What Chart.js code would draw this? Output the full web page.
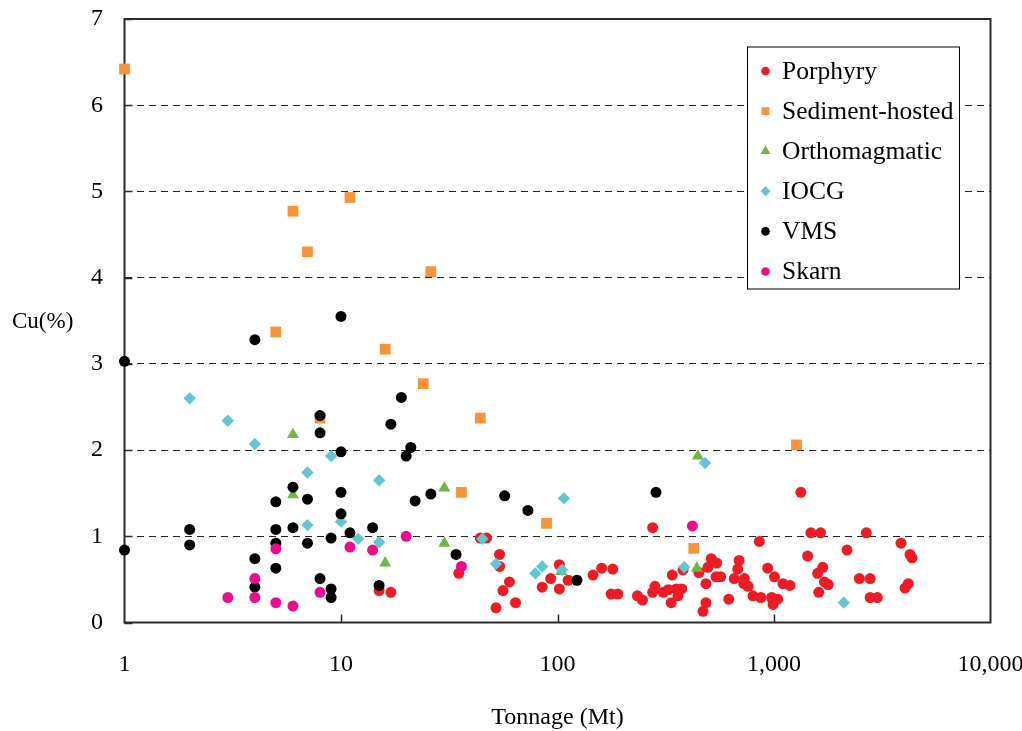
<!DOCTYPE html>
<html>
<head>
<meta charset="utf-8">
<title>Cu grade versus tonnage by deposit type</title>
<script src="https://cdn.jsdelivr.net/npm/chart.js@4.4.1/dist/chart.umd.min.js"></script>
<style>
  html, body { margin: 0; padding: 0; background: #fff; }
  #wrap { width: 1022px; height: 731px; }
</style>
</head>
<body>
<div id="wrap"><canvas id="chart" width="1022" height="731"></canvas></div>
<script>
// Deposits: [tonnage (Mt), Cu grade (%)]
const porphyry = [
  [15,0.37],[17,0.35],[35,0.57],[44,0.98],[47,0.98],[52,0.17],[54,0.79],[54,0.65],[56,0.37],[60,0.47],
  [64,0.23],[85,0.41],[93,0.51],[102,0.67],[102,0.39],[112,0.49],[146,0.55],[160,0.63],[180,0.62],[177,0.33],
  [190,0.33],[234,0.31],[247,0.26],[275,1.10],[282,0.42],[275,0.35],[308,0.35],[325,0.38],[339,0.55],[335,0.23],
  [354,0.39],[375,0.39],[360,0.31],[380,0.61],[450,0.58],[485,0.45],[485,0.23],[470,0.13],[495,0.64],[513,0.74],
  [543,0.69],[540,0.53],[567,0.53],[618,0.27],[655,0.51],[690,0.72],[680,0.62],[730,0.51],[725,0.45],[760,0.42],
  [855,0.94],[800,0.31],[870,0.29],[935,0.63],[1005,0.53],[975,0.29],[1040,0.27],[990,0.21],[1100,0.45],[1185,0.43],
  [1330,1.51],[1480,1.04],[1640,1.04],[2670,1.04],[3860,0.92],[2175,0.84],[1430,0.77],[4250,0.79],[4340,0.75],[1680,0.64],
  [1590,0.57],[1710,0.47],[1780,0.44],[2480,0.51],[2780,0.51],[1610,0.35],[2780,0.29],[3000,0.29],[4170,0.45],[4030,0.40]
];
const sedimentHosted = [
  [1,6.42],[5,3.37],[6,4.77],[7,4.30],[8,2.37],[11,4.93],[16,3.17],[24,2.77],[26,4.07],[36,1.51],
  [44,2.37],[89,1.15],[426,0.86],[1270,2.06]
];
const orthomagmatic = [
  [6,2.18],[6,1.48],[16,0.69],[30,1.56],[30,0.92],[104,0.59],[440,0.63],[445,1.93]
];
const iocg = [
  [2,2.60],[3,2.34],[4,2.07],[7,1.74],[7,1.13],[9,1.93],[10,1.17],[12,0.97],[15,1.65],[15,0.93],
  [45,0.97],[52,0.68],[79,0.57],[85,0.65],[105,0.61],[107,1.44],[385,0.64],[480,1.85],[2100,0.23]
];
const vms = [
  [1,3.03],[1,0.84],[2,1.08],[2,0.90],[4,3.28],[4,0.74],[4,0.41],[5,1.40],[5,1.08],[5,0.92],
  [5,0.63],[6,1.57],[6,1.10],[7,1.43],[7,0.92],[8,2.40],[8,2.20],[8,0.51],[9,0.98],[9,0.39],
  [9,0.29],[10,3.55],[10,1.98],[10,1.51],[10,1.26],[11,1.04],[14,1.10],[15,0.43],[17,2.30],[19,2.61],
  [20,1.93],[21,2.03],[22,1.41],[26,1.49],[34,0.79],[57,1.47],[73,1.30],[123,0.49],[285,1.51]
];
const skarn = [
  [3,0.29],[4,0.51],[4,0.29],[5,0.855],[5,0.23],[6,0.19],[8,0.35],[11,0.875],[14,0.84],[20,1.00],
  [36,0.65],[420,1.12]
];

const tonnageTicks = [1, 10, 100, 1000, 10000];
const tonnageTickLabels = ['1', '10', '100', '1,000', '10,000'];
const cuTicks = [0, 1, 2, 3, 4, 5, 6, 7];

const SERIF = "'Liberation Serif', 'Times New Roman', serif";

// Each series: name, points, colour, marker shape, plot radius, legend radius
const seriesDefs = [
  { name: 'Porphyry',        pts: porphyry,       color: '#ED1C24', style: 'circle',   r: 5.5, lr: 4.3 },
  { name: 'Sediment-hosted', pts: sedimentHosted, color: '#F7943A', style: 'rect',     r: 7.6, lr: 5.5 },
  { name: 'Orthomagmatic',   pts: orthomagmatic,  color: '#6DB744', style: 'triangle', r: 6.9, lr: 5.8 },
  { name: 'IOCG',            pts: iocg,           color: '#62C6D2', style: 'rectRot',  r: 6.2, lr: 5.0 },
  { name: 'VMS',             pts: vms,            color: '#000000', style: 'circle',   r: 5.5, lr: 4.3 },
  { name: 'Skarn',           pts: skarn,          color: '#EC0C8C', style: 'circle',   r: 5.5, lr: 4.3 }
];

const datasets = seriesDefs.map((s, i) => ({
  label: s.name,
  data: s.pts.map(p => ({ x: p[0], y: p[1] })),
  backgroundColor: s.color,
  borderColor: s.color,
  pointBackgroundColor: s.color,
  pointBorderWidth: 0,
  pointStyle: s.style,
  pointRadius: s.r,
  pointHoverRadius: s.r,
  showLine: false,
  clip: false,
  order: seriesDefs.length - i   // later series sit on top
}));

// Plot frame plus short inward tick marks on both axes
const frameTicks = {
  id: 'frameTicks',
  beforeDatasetsDraw(chart) {
    const { ctx, chartArea: a, scales } = chart;
    ctx.save();
    ctx.strokeStyle = '#2b2b2b';
    ctx.lineWidth = 2;
    ctx.strokeRect(a.left, a.top, a.right - a.left, a.bottom - a.top);
    ctx.lineWidth = 1.5;
    ctx.beginPath();
    cuTicks.forEach(v => {
      const y = Math.round(scales.y.getPixelForValue(v)) + 0.5;
      ctx.moveTo(a.left, y); ctx.lineTo(a.left + 8, y);
    });
    tonnageTicks.slice(1, -1).forEach(v => {
      const x = Math.round(scales.x.getPixelForValue(v)) + 0.5;
      ctx.moveTo(x, a.bottom); ctx.lineTo(x, a.bottom - 8);
    });
    ctx.stroke();
    ctx.restore();
  }
};

// Horizontal y-axis caption and the boxed legend inside the plot
const captionLegend = {
  id: 'captionLegend',
  afterDraw(chart) {
    const { ctx, chartArea: a } = chart;
    ctx.save();
    ctx.fillStyle = '#000';
    ctx.font = '23px ' + SERIF;
    ctx.textAlign = 'left';
    ctx.textBaseline = 'middle';
    ctx.fillText('Cu(%)', 12, 322);

    const bx = a.right - 243.5, by = a.top + 27.5, bw = 212, bh = 242;
    ctx.fillStyle = '#fff';
    ctx.fillRect(bx, by, bw, bh);
    ctx.strokeStyle = '#000';
    ctx.lineWidth = 1;
    ctx.strokeRect(bx + 0.5, by + 0.5, bw, bh);

    seriesDefs.forEach((s, i) => {
      const cy = by + 24.5 + i * 40.1;
      const mx = bx + 18.5;
      ctx.fillStyle = s.color;
      if (Chart.helpers && Chart.helpers.drawPoint) {
        Chart.helpers.drawPoint(ctx, { pointStyle: s.style, radius: s.lr, rotation: 0, borderWidth: 0 }, mx, cy);
      } else {
        ctx.beginPath(); ctx.arc(mx, cy, s.lr, 0, Math.PI * 2); ctx.fill();
      }
      ctx.fillStyle = '#000';
      ctx.font = '25.5px ' + SERIF;
      ctx.textBaseline = 'middle';
      ctx.fillText(s.name, bx + 35, cy + 1);
    });
    ctx.restore();
  }
};

new Chart(document.getElementById('chart'), {
  type: 'scatter',
  data: { datasets },
  options: {
    responsive: false,
    animation: false,
    devicePixelRatio: 1,
    layout: { padding: { left: 0, right: 31.5, top: 19, bottom: 0 } },
    plugins: { legend: { display: false }, tooltip: { enabled: false } },
    scales: {
      x: {
        type: 'logarithmic',
        min: 1,
        max: 10000,
        afterBuildTicks: s => { s.ticks = tonnageTicks.map(v => ({ value: v })); },
        afterFit: s => { s.height = 108.5; s.paddingLeft = 0; s.paddingRight = 0; },
        ticks: {
          autoSkip: false, maxRotation: 0, padding: 28, color: '#000',
          font: { family: SERIF, size: 24 },
          callback: (v, i) => tonnageTickLabels[i]
        },
        grid: { display: false, drawTicks: false },
        border: { display: false },
        title: {
          display: true, text: 'Tonnage (Mt)', color: '#000',
          font: { family: SERIF, size: 24 }, padding: { top: 0, bottom: -1 }
        }
      },
      y: {
        min: 0,
        max: 7,
        afterBuildTicks: s => { s.ticks = cuTicks.map(v => ({ value: v })); },
        afterFit: s => { s.width = 124.5; s.paddingTop = 0; s.paddingBottom = 0; },
        ticks: { padding: 21.5, color: '#000', font: { family: SERIF, size: 24 } },
        grid: {
          drawTicks: false,
          lineWidth: 1,
          color: c => (c.tick && c.tick.value > 0 && c.tick.value < 7) ? '#222' : 'rgba(0,0,0,0)'
        },
        border: { display: false, dash: [7, 5] }
      }
    }
  },
  plugins: [frameTicks, captionLegend]
});
</script>
</body>
</html>
